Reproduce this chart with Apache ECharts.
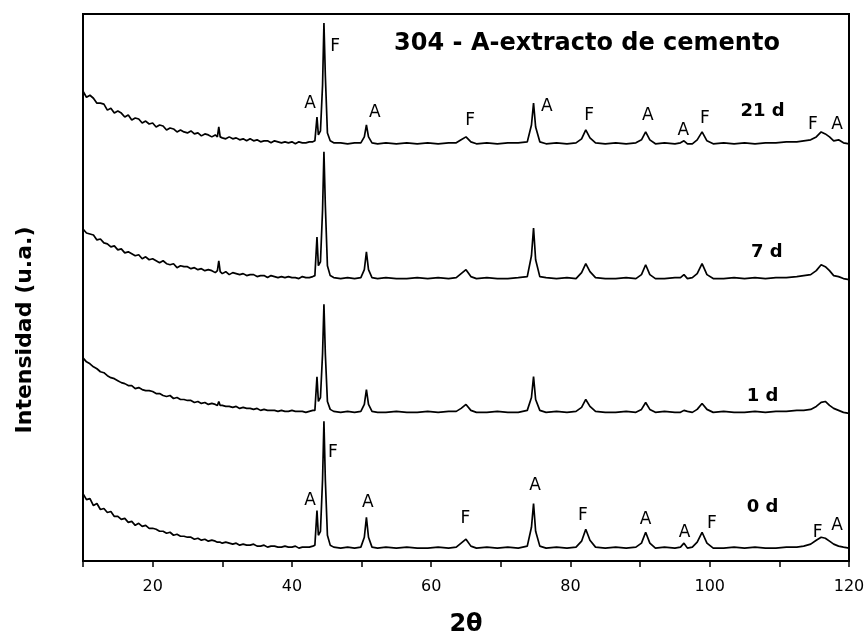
<!DOCTYPE html>
<html><head><meta charset="utf-8">
<script src="https://cdn.jsdelivr.net/npm/echarts@6/dist/echarts.min.js"></script>
<style>html,body{margin:0;padding:0;background:#fff}#c{width:868px;height:642px}</style>
</head><body><div id="c"></div>
<script>
// 2θ sample positions (low-angle background region and peak region)
var thetaLow = [10,10.5,11,11.5,12,12.5,13,13.5,14,14.5,
 15,15.5,16,16.5,17,17.5,18,18.5,19,19.5,
 20,20.5,21,21.5,22,22.5,23,23.5,24,24.5,
 25,25.5,26,26.5,27,27.5,28,28.5,29,29.3,
 29.5,29.7,30,30.5,31,31.5,32,32.5,33,33.5,
 34,34.5,35,35.5,36,36.5,37,37.5,38,38.5,
 39,39.5,40,40.5,41,41.5,42,42.5,43];
var thetaHigh = [43.3,43.6,43.8,44.1,44.4,44.6,44.8,45.1,45.5,46,
 47,48,49,49.9,50.4,50.7,51.0,51.5,52.3,53.5,
 55,56.5,58,59.5,61,62.5,63.6,64.3,65.0,65.7,
 66.5,68,69.5,71,72.5,73.8,74.4,74.7,75.0,75.6,
 76.5,78,79.5,80.8,81.6,82.2,82.8,83.6,85,86.5,
 88,89.4,90.2,90.8,91.4,92.2,93.5,95.0,95.8,96.3,
 96.8,97.5,98.2,98.9,99.6,100.5,102,103.5,105,106.5,
 108,109.5,111,112.5,113.5,114.5,115.3,116.0,116.6,117.2,
 117.8,118.5,119.2,120];

// intensities (u.a.) above each pattern's own baseline
var low21 = [54,48,50,47,42,42,41,35,37,32, 34,32,28,30,25,27,26,22,24,21, 22,18,20,19,15,17,16,13,15,13, 12,14,11,12,9,11,10,8,10,8, 18,8,7,6,8,6,7,5,6,4, 6,4,5,3,4,4,2,4,3,2, 3,2,3,1,3,2,2,3,3];
var low7  = [51,47,46,45,40,41,37,36,33,34, 30,31,27,28,26,24,25,21,23,20, 21,19,17,19,16,15,16,12,14,13, 13,11,12,10,11,9,10,9,7,9, 19,8,6,8,5,7,6,5,6,4, 5,5,3,4,4,2,4,3,2,3, 2,3,2,2,1,3,2,2,3];
var low1  = [56,52,50,47,45,42,41,38,36,35, 33,31,30,28,28,25,26,24,23,23, 22,20,20,18,17,18,15,16,14,14, 13,13,11,12,10,11,9,10,9,8, 12,8,8,7,7,6,7,5,6,5, 5,4,5,3,4,3,3,3,2,3, 2,2,3,2,2,2,1,2,3];
var low0  = [56,50,51,44,46,40,41,37,38,33, 33,30,31,27,28,24,26,23,24,21, 21,20,18,18,16,17,14,15,13,13, 12,12,10,11,9,10,8,9,8,7, 8,7,6,7,6,5,6,4,5,4, 4,5,3,3,4,2,3,3,2,2, 3,2,2,3,1,2,2,2,3];

var high21 = [4,28,10,14,60,123,70,12,4,2, 2,1,2,2,8,20,8,2,1,2, 1,2,1,2,1,2,2,5,8,3, 1,2,1,2,2,3,20,42,18,3, 1,2,1,2,6,15,7,2,1,2, 1,2,5,13,5,1,2,1,2,4, 1,1,5,13,4,1,2,1,2,1, 2,2,3,3,4,5,8,13,11,8, 4,5,2,1];
var high7  = [4,43,14,18,70,129,75,14,4,2, 1,2,1,2,10,28,10,2,1,2, 1,1,2,1,2,1,2,6,10,3, 1,2,1,1,2,3,24,52,20,3, 2,1,2,1,7,16,8,2,1,1, 2,1,5,15,5,1,1,2,2,5, 1,2,6,16,5,1,1,2,1,2, 1,2,2,3,4,5,9,15,13,9, 4,3,1,0];
var high1  = [3,37,12,16,60,110,60,12,4,2, 1,2,1,2,9,24,9,2,1,1, 2,1,1,2,1,2,2,5,9,3, 1,1,2,1,1,3,16,37,14,3, 1,2,1,2,6,14,7,2,1,1, 2,1,4,11,4,1,2,1,1,3, 2,1,4,10,4,1,2,1,1,2, 1,2,2,3,3,4,7,11,12,8, 5,3,1,0];
var high0  = [4,39,14,18,70,129,70,14,4,2, 1,2,1,2,12,32,12,2,1,2, 1,2,1,1,2,1,2,6,10,3, 1,2,1,2,1,3,22,46,18,3, 1,2,1,2,8,20,9,2,1,2, 1,2,6,17,6,1,2,1,2,6, 1,2,7,17,6,1,1,2,1,2, 1,1,2,2,3,5,9,12,11,8, 5,3,2,1];

// vertical stacking offsets of the patterns
var seriesNames = ['21 d','7 d','1 d','0 d'];
var offsets = [420, 284, 149, 12];

// tick labels
var xTickLabels = [20,40,60,80,100,120];

// peak phase labels: [2θ, height, phase]
var peakLabels21 = [[42.6,462,'A'],[46.2,519,'F'],[51.9,453,'A'],[65.6,444,'F'],[76.6,459,'A'],[82.7,449,'F'],[91.1,449,'A'],[96.2,434,'A'],[99.3,446,'F'],[114.8,440,'F'],[118.3,440,'A']];
var peakLabels0 = [[42.6,61,'A'],[45.9,109,'F'],[50.9,59,'A'],[64.9,43,'F'],[74.9,76,'A'],[81.8,46,'F'],[90.8,42,'A'],[96.4,29,'A'],[100.3,38,'F'],[115.5,29,'F'],[118.3,36,'A']];
var timeLabelPos = [[107.6,454],[108.2,311],[107.6,166],[107.6,54]];

var theta = thetaLow.concat(thetaHigh);
var patterns = [low21.concat(high21), low7.concat(high7), low1.concat(high1), low0.concat(high0)];

var FONT = 'DejaVu Sans';
var series = patterns.map(function(p, k){
  return {
    type:'line', name: seriesNames[k], showSymbol:false, animation:false,
    lineStyle:{color:'#000', width:1.7}, silent:true,
    data: theta.map(function(t,i){ return [t, p[i] + offsets[k]]; })
  };
});
function labelSeries(arr, size, weight){
  return {
    type:'scatter', symbolSize:1, itemStyle:{color:'rgba(0,0,0,0)', opacity:1}, animation:false, silent:true,
    data: arr.map(function(a){ return {value:[a[0],a[1]], name:a[2]}; }),
    label:{show:true, position:'inside', formatter:function(p){return p.name;}, color:'#000', opacity:1,
      textBorderWidth:0, fontFamily:FONT, fontSize:size, fontWeight:weight}
  };
}
series.push(labelSeries(peakLabels21, 17, 'normal'));
series.push(labelSeries(peakLabels0, 17, 'normal'));
series.push(labelSeries(timeLabelPos.map(function(p,k){return [p[0],p[1],seriesNames[k]];}), 18, 'bold'));

var chart = echarts.init(document.getElementById('c'), null, {renderer:'canvas'});
chart.setOption({
  animation:false,
  grid:{left:83, right:19, top:14, bottom:76, show:true, borderColor:'#000', borderWidth:2, backgroundColor:'transparent'},
  xAxis:{type:'value', min:10, max:120, interval:10,
    name:'2θ', nameLocation:'middle', nameGap:52,
    nameTextStyle:{fontFamily:FONT, fontSize:24, fontWeight:'bold', color:'#000'},
    axisLine:{lineStyle:{color:'#000', width:2}},
    axisTick:{inside:false, length:6, lineStyle:{color:'#000', width:1.5}},
    axisLabel:{margin:18, color:'#000', fontFamily:FONT, fontSize:16,
      formatter:function(v){ return xTickLabels.indexOf(v) >= 0 ? String(v) : ''; }},
    splitLine:{show:false}},
  yAxis:{type:'value', min:0, max:552, axisLine:{show:true, lineStyle:{color:'#000', width:2}},
    axisTick:{show:false}, axisLabel:{show:false}, splitLine:{show:false}},
  graphic:[
    {type:'text', x:587, y:44, style:{text:'304 - A-extracto de cemento', fill:'#000',
      font:'bold 24px "DejaVu Sans"', align:'center', verticalAlign:'middle', textAlign:'center', textVerticalAlign:'middle'}},
    {type:'text', x:25, y:330, rotation:Math.PI/2, style:{text:'Intensidad (u.a.)', fill:'#000',
      font:'bold 22px "DejaVu Sans"', align:'center', verticalAlign:'middle', textAlign:'center', textVerticalAlign:'middle'}}
  ],
  series:series
});
</script></body></html>
